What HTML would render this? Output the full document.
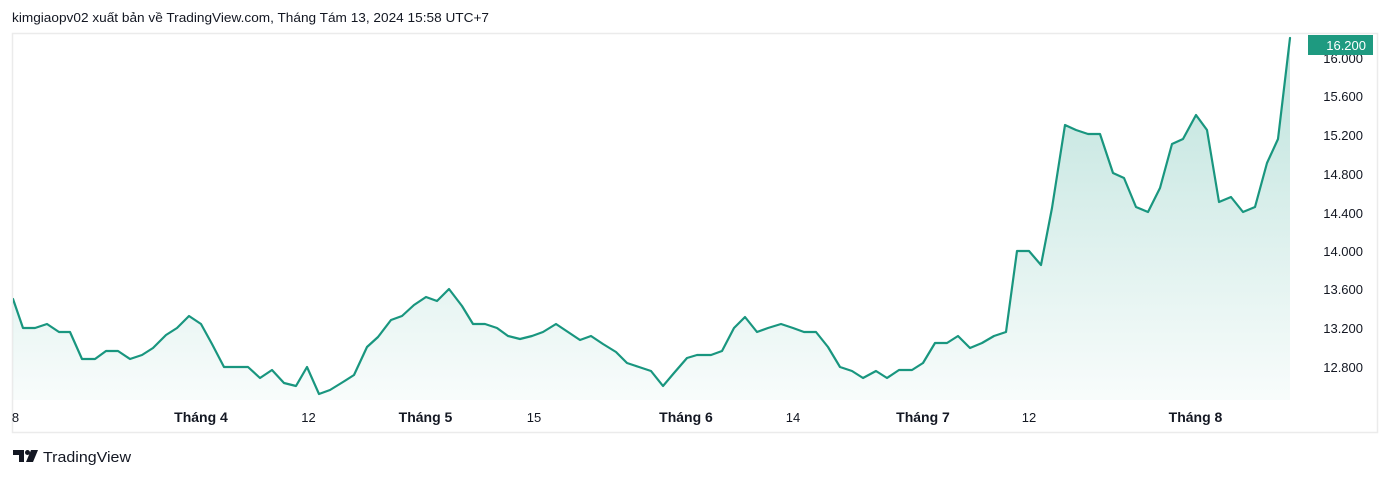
<!DOCTYPE html>
<html><head><meta charset="utf-8"><style>
html,body{margin:0;padding:0;background:#fff;}
svg{display:block;}
text{font-family:"Liberation Sans","DejaVu Sans",sans-serif;}
</style></head><body>
<svg width="1391" height="478" viewBox="0 0 1391 478" xmlns="http://www.w3.org/2000/svg">
<defs>
<linearGradient id="g" x1="0" y1="38" x2="0" y2="400" gradientUnits="userSpaceOnUse">
<stop offset="0" stop-color="#22a08a" stop-opacity="0.30"/>
<stop offset="1" stop-color="#22a08a" stop-opacity="0.03"/>
</linearGradient>
<clipPath id="c"><rect x="13" y="34" width="1290" height="366"/></clipPath>
</defs>
<rect width="1391" height="478" fill="#fff"/>
<text x="12" y="22" font-size="13" fill="#131722" textLength="477" lengthAdjust="spacingAndGlyphs">kimgiaopv02 xuất bản về TradingView.com, Tháng Tám 13, 2024 15:58 UTC+7</text>
<rect x="12.5" y="33.5" width="1365" height="399" fill="none" stroke="#ebebeb" stroke-width="1.5"/>
<g clip-path="url(#c)">
<polygon fill="url(#g)" points="13,400 13,299 23,328 35,328 47,324 59,332 70,332 82,359 95,359 106,351 118,351 130,359 142,355 153,348 166,335 177,328 189,316 201,324 212,344 224,367 237,367 248,367 260,378 272,370 284,383 296,386 307,367 319,394 330,390 343,382 354,375 367,347 378,337 391,320 402,316 414,305 426,297 437,301 449,289 462,306 473,324 485,324 497,328 508,336 520,339 532,336 543,332 556,324 568,332 580,340 591,336 603,344 616,352 627,363 639,367 651,371 663,386 674,373 687,358 697,355 711,355 722,351 734,328 745,317 757,332 768,328 781,324 793,328 804,332 816,332 828,347 840,367 852,371 863,378 876,371 887,378 899,370 912,370 923,363 935,343 947,343 958,336 970,348 982,343 994,336 1006,332 1017,251 1029,251 1041,265 1052,208 1065,125 1076,130 1088,134 1100,134 1113,173 1124,178 1136,207 1148,212 1160,188 1172,144 1183,139 1196,115 1207,130 1219,202 1231,197 1243,212 1255,207 1267,163 1278,139 1290,38 1290,400"/>
<polyline fill="none" stroke="#19967f" stroke-width="2.2" stroke-linejoin="round" stroke-linecap="round" points="13,299 23,328 35,328 47,324 59,332 70,332 82,359 95,359 106,351 118,351 130,359 142,355 153,348 166,335 177,328 189,316 201,324 212,344 224,367 237,367 248,367 260,378 272,370 284,383 296,386 307,367 319,394 330,390 343,382 354,375 367,347 378,337 391,320 402,316 414,305 426,297 437,301 449,289 462,306 473,324 485,324 497,328 508,336 520,339 532,336 543,332 556,324 568,332 580,340 591,336 603,344 616,352 627,363 639,367 651,371 663,386 674,373 687,358 697,355 711,355 722,351 734,328 745,317 757,332 768,328 781,324 793,328 804,332 816,332 828,347 840,367 852,371 863,378 876,371 887,378 899,370 912,370 923,363 935,343 947,343 958,336 970,348 982,343 994,336 1006,332 1017,251 1029,251 1041,265 1052,208 1065,125 1076,130 1088,134 1100,134 1113,173 1124,178 1136,207 1148,212 1160,188 1172,144 1183,139 1196,115 1207,130 1219,202 1231,197 1243,212 1255,207 1267,163 1278,139 1290,38"/>
</g>
<g font-size="13" fill="#131722" text-anchor="end">
<text x="1363" y="63">16.000</text>
<text x="1363" y="101">15.600</text>
<text x="1363" y="140">15.200</text>
<text x="1363" y="179">14.800</text>
<text x="1363" y="218">14.400</text>
<text x="1363" y="256">14.000</text>
<text x="1363" y="294">13.600</text>
<text x="1363" y="333">13.200</text>
<text x="1363" y="372">12.800</text>
</g>
<rect x="1308" y="35" width="65" height="20" fill="#1e9a80"/>
<text x="1366" y="50" font-size="13" fill="#fff" text-anchor="end">16.200</text>
<g font-size="13" fill="#131722" text-anchor="middle">
<text x="15.5" y="422">8</text>
<text x="201" y="422" font-weight="bold" font-size="14">Tháng 4</text>
<text x="308.5" y="422">12</text>
<text x="425.5" y="422" font-weight="bold" font-size="14">Tháng 5</text>
<text x="534" y="422">15</text>
<text x="686" y="422" font-weight="bold" font-size="14">Tháng 6</text>
<text x="793" y="422">14</text>
<text x="923" y="422" font-weight="bold" font-size="14">Tháng 7</text>
<text x="1029" y="422">12</text>
<text x="1195.5" y="422" font-weight="bold" font-size="14">Tháng 8</text>
</g>
<g fill="#131722">
<path d="M13 450 H24 V462 H19 V455 H13 Z"/>
<circle cx="27.5" cy="452.5" r="2.5"/>
<path d="M31 450 H38 L33 462 H26 Z"/>
</g>
<text x="43" y="462" font-size="15" fill="#131722" textLength="88" lengthAdjust="spacingAndGlyphs">TradingView</text>
</svg>
</body></html>
